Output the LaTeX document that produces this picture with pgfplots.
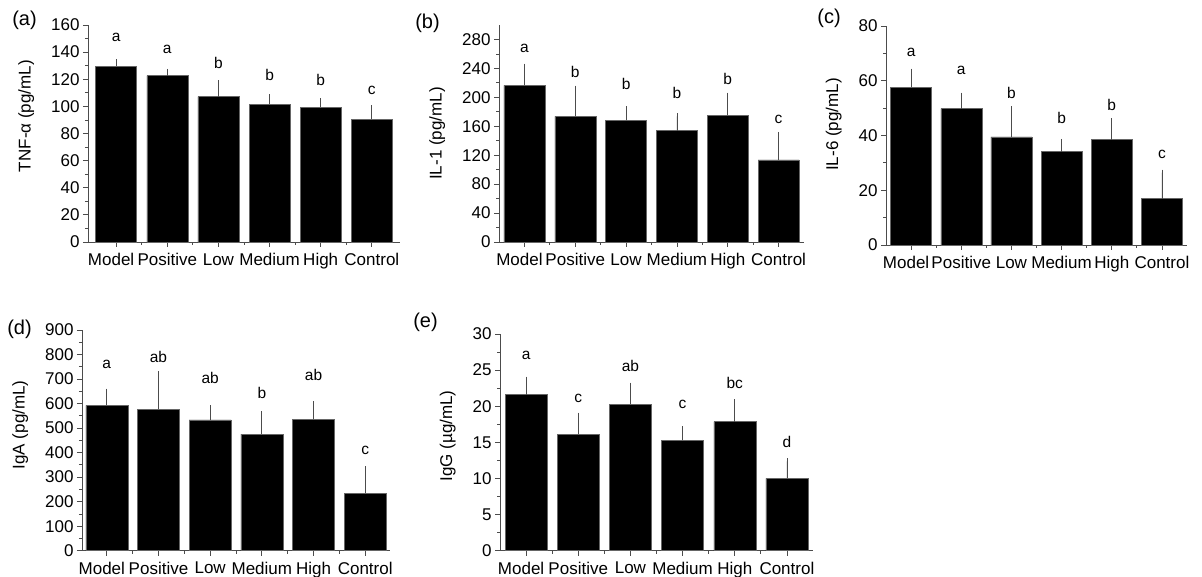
\documentclass[border=0pt]{standalone}
\usepackage{fontspec}
\setmainfont{Liberation Sans}
\usepackage{pgfplots}
\usepackage{pgfplotstable}
\pgfplotsset{compat=1.18}

\pgfplotstableread{
x y e ly l
0 129.7 2.7 151 a
1 122.6 2.9 142 a
2 107.1 10.1 131.7 b
3 101.7 4.9 123 b
4 99.4 4.2 119.4 b
5 90.6 7.9 112 c
}\dataA
\pgfplotstableread{
x y e ly l
0 216.6 25.7 267.6 a
1 173.8 38.2 234.5 b
2 168.3 15.1 218 b
3 154.0 19.8 205.5 b
4 175.2 27.1 225.3 b
5 113.6 34.4 170 c
}\dataB
\pgfplotstableread{
x y e ly l
0 57.6 5.7 70.4 a
1 49.8 4.8 63.6 a
2 39.5 10.1 55.4 b
3 34.1 3.6 46.3 b
4 38.5 6.7 51.1 b
5 16.9 9.5 33.1 c
}\dataC
\pgfplotstableread{
x y e ly l
0 592.7 55.7 761 a
1 576.4 142.6 791 ab
2 533.0 47.5 706 ab
3 475.8 80.2 644 b
4 535.6 62.4 716 ab
5 235.2 96.5 410.5 c
}\dataD
\pgfplotstableread{
x y e ly l
0 21.6 2.1 27.1 a
1 16.15 2.55 21.1 c
2 20.26 2.59 25.6 ab
3 15.3 1.5 20.3 c
4 17.86 2.68 23.2 bc
5 10.0 2.37 15.1 d
}\dataE

\pgfplotsset{
  panel/.style={
    scale only axis,
    anchor=south west,
    axis lines=left,
    axis line style={-, black!70, line width=0.8pt},
    tick style={black!70, line width=0.8pt},
    tick align=outside,
    major tick length=5pt,
    minor tick length=3pt,
    xtick={0,1,2,3,4,5},
    minor xtick={0.5,1.5,2.5,3.5,4.5},
    xticklabels={Model\kern10pt,Positive,Low,Medium,High,Control},
    xticklabel shift=3pt,
    ylabel shift=10pt,
    ymin=0,
    minor y tick num=1,
    tick label style={font=\fontsize{17pt}{20pt}\selectfont},
    label style={font=\fontsize{17pt}{20pt}\selectfont},
    /pgf/number format/assume math mode=true,
    clip=false,
    enlargelimits=false,
  },
  barplot/.style={ybar, fill=black, draw=black!60, line width=0.5pt,
    error bars/y dir=plus, error bars/y explicit,
    error bars/error bar style={black!70, line width=0.8pt},
    error bars/error mark options={black!70, line width=0.8pt, mark size=3pt}},
  letters/.style={draw=none, mark=none, nodes near coords, point meta=explicit symbolic,
    nodes near coords style={anchor=center, text=black, inner sep=0pt, font=\fontsize{15.5pt}{18pt}\selectfont}},
}

\begin{document}
\begin{tikzpicture}
\useasboundingbox (0pt,0pt) rectangle (1202pt,577pt);

% (a)
\begin{axis}[panel, at={(88pt,335pt)}, width=312pt, height=217pt,
  xmin=-0.55, xmax=5.55, ymax=160, ytick={0,20,...,160},
  ylabel={TNF-α (pg/mL)}, ylabel style={at={(ticklabel cs:0.58)}}]
\addplot[barplot, bar width=41pt] table[x=x, y=y, y error=e] {\dataA};
\addplot[letters] table[x=x, y=ly, meta=l] {\dataA};
\end{axis}

% (b)
\begin{axis}[panel, at={(499pt,335pt)}, width=305pt, height=217pt,
  xmin=-0.5, xmax=5.5, ymax=300, ytick={0,40,...,280},
  ylabel={IL-1 (pg/mL)}, ylabel style={at={(ticklabel cs:0.5)}}]
\addplot[barplot, bar width=41pt] table[x=x, y=y, y error=e] {\dataB};
\addplot[letters] table[x=x, y=ly, meta=l] {\dataB};
\end{axis}

% (c)
\begin{axis}[panel, at={(886pt,332pt)}, width=301pt, height=219pt,
  xmin=-0.5, xmax=5.5, ymax=80, ytick={0,20,...,80},
  ylabel={IL-6 (pg/mL)}, ylabel style={at={(ticklabel cs:0.55)}}]
\addplot[barplot, bar width=41pt] table[x=x, y=y, y error=e] {\dataC};
\addplot[letters] table[x=x, y=ly, meta=l] {\dataC};
\end{axis}

% (d)
\begin{axis}[panel, at={(82pt,26.3pt)}, width=308pt, height=220.7pt,
  xmin=-0.48, xmax=5.48, ymax=900, ytick={0,100,...,900},
  ylabel={IgA (pg/mL)}, ylabel style={at={(ticklabel cs:0.57)}}]
\addplot[barplot, bar width=42pt] table[x=x, y=y, y error=e] {\dataD};
\addplot[letters] table[x=x, y=ly, meta=l] {\dataD};
\end{axis}

% (e)
\begin{axis}[panel, at={(500pt,26.3pt)}, width=313pt, height=216.7pt,
  xmin=-0.5, xmax=5.5, ymax=30, ytick={0,5,...,30},
  ylabel={IgG (µg/mL)}, ylabel style={at={(ticklabel cs:0.53)}}]
\addplot[barplot, bar width=42pt] table[x=x, y=y, y error=e] {\dataE};
\addplot[letters] table[x=x, y=ly, meta=l] {\dataE};
\end{axis}

\begin{scope}[every node/.style={font=\fontsize{20pt}{24pt}\selectfont, inner sep=0pt}]
\node at (24.5pt,557pt) {(a)};
\node at (427.5pt,554pt) {(b)};
\node at (829pt,559pt) {(c)};
\node at (19.5pt,248pt) {(d)};
\node at (425.5pt,255pt) {(e)};
\end{scope}
\end{tikzpicture}
\end{document}
